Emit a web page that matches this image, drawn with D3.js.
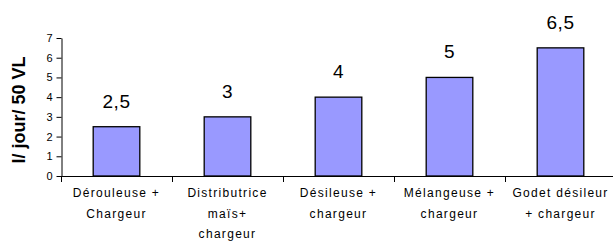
<!DOCTYPE html>
<html>
<head>
<meta charset="utf-8">
<script src="https://cdn.jsdelivr.net/npm/d3@7"></script>
<style>
  body { margin: 0; background: #fff; }
  svg { display: block; }
</style>
</head>
<body>
<div id="chart"></div>
<script>
// data
var categories = [
    ['Dérouleuse +', 'Chargeur'],
    ['Distributrice', 'maïs+', 'chargeur'],
    ['Désileuse +', 'chargeur'],
    ['Mélangeuse +', 'chargeur'],
    ['Godet désileur', '+ chargeur']
];
var values = [2.5, 3, 4, 5, 6.5];
var yTicks = [0, 1, 2, 3, 4, 5, 6, 7];
var yTitle = 'l/ jour/ 50 VL';

var width = 613, height = 244;

var svg = d3.select('#chart').append('svg')
    .attr('width', width)
    .attr('height', height);

var x = d3.scaleBand()
    .domain(d3.range(categories.length))
    .range([61, 616]);

var y = d3.scaleLinear()
    .domain([0, 7])
    .range([176, 38]);

var barW = x.bandwidth() * 0.42;

// bars
svg.append('g').selectAll('rect')
    .data(values)
    .join('rect')
    .attr('x', function(d, i){ return x(i) + x.bandwidth() / 2 - barW / 2; })
    .attr('y', function(d){ return y(d); })
    .attr('width', barW)
    .attr('height', function(d){ return y(0) - y(d); })
    .attr('fill', '#9999ff')
    .attr('stroke', '#000')
    .attr('stroke-width', 1.3);

// value labels
svg.append('g').selectAll('text')
    .data(values)
    .join('text')
    .attr('x', function(d, i){ return x(i) + x.bandwidth() / 2; })
    .attr('y', function(d){ return y(d) - 19; })
    .attr('text-anchor', 'middle')
    .attr('font-family', 'Arial, "Liberation Sans", sans-serif')
    .attr('font-size', 19)
    .attr('letter-spacing', 0.5)
    .attr('fill', '#000')
    .text(function(d){ return String(d).replace('.', ','); });

// y axis
var yAxis = svg.append('g')
    .attr('transform', 'translate(61.5,0)')
    .call(d3.axisLeft(y).tickValues(yTicks).tickFormat(d3.format('d'))
        .tickSize(5).tickSizeOuter(0).tickPadding(4));
yAxis.select('.domain').attr('stroke', '#000');
yAxis.selectAll('.tick line').attr('stroke', '#000');
yAxis.selectAll('text')
    .attr('font-family', 'Arial, "Liberation Sans", sans-serif')
    .attr('font-size', 11)
    .attr('fill', '#000');

// x axis line + ticks at category boundaries
var xg = svg.append('g');
xg.append('line')
    .attr('x1', 61).attr('x2', width)
    .attr('y1', y(0) + 0.5).attr('y2', y(0) + 0.5)
    .attr('stroke', '#000');
xg.selectAll('line.tk')
    .data(d3.range(categories.length))
    .join('line')
    .attr('class', 'tk')
    .attr('x1', function(i){ return Math.round(x(i)) + 0.5; })
    .attr('x2', function(i){ return Math.round(x(i)) + 0.5; })
    .attr('y1', y(0)).attr('y2', y(0) + 6)
    .attr('stroke', '#000');

// category labels
var lab = svg.append('g').selectAll('text')
    .data(categories)
    .join('text')
    .attr('text-anchor', 'middle')
    .attr('font-family', 'Arial, "Liberation Sans", sans-serif')
    .attr('font-size', 12)
    .attr('letter-spacing', 1.3)
    .attr('fill', '#000');
lab.each(function(lines, i){
    var t = d3.select(this);
    lines.forEach(function(s, j){
        t.append('tspan')
            .attr('x', x(i) + x.bandwidth() / 2)
            .attr('y', 197 + j * 20.5)
            .text(s);
    });
});

// y title
svg.append('text')
    .attr('transform', 'translate(25,110) rotate(-90)')
    .attr('text-anchor', 'middle')
    .attr('font-family', 'Arial, "Liberation Sans", sans-serif')
    .attr('font-weight', 'bold')
    .attr('font-size', 18)
    .attr('fill', '#000')
    .text(yTitle);
</script>
</body>
</html>
